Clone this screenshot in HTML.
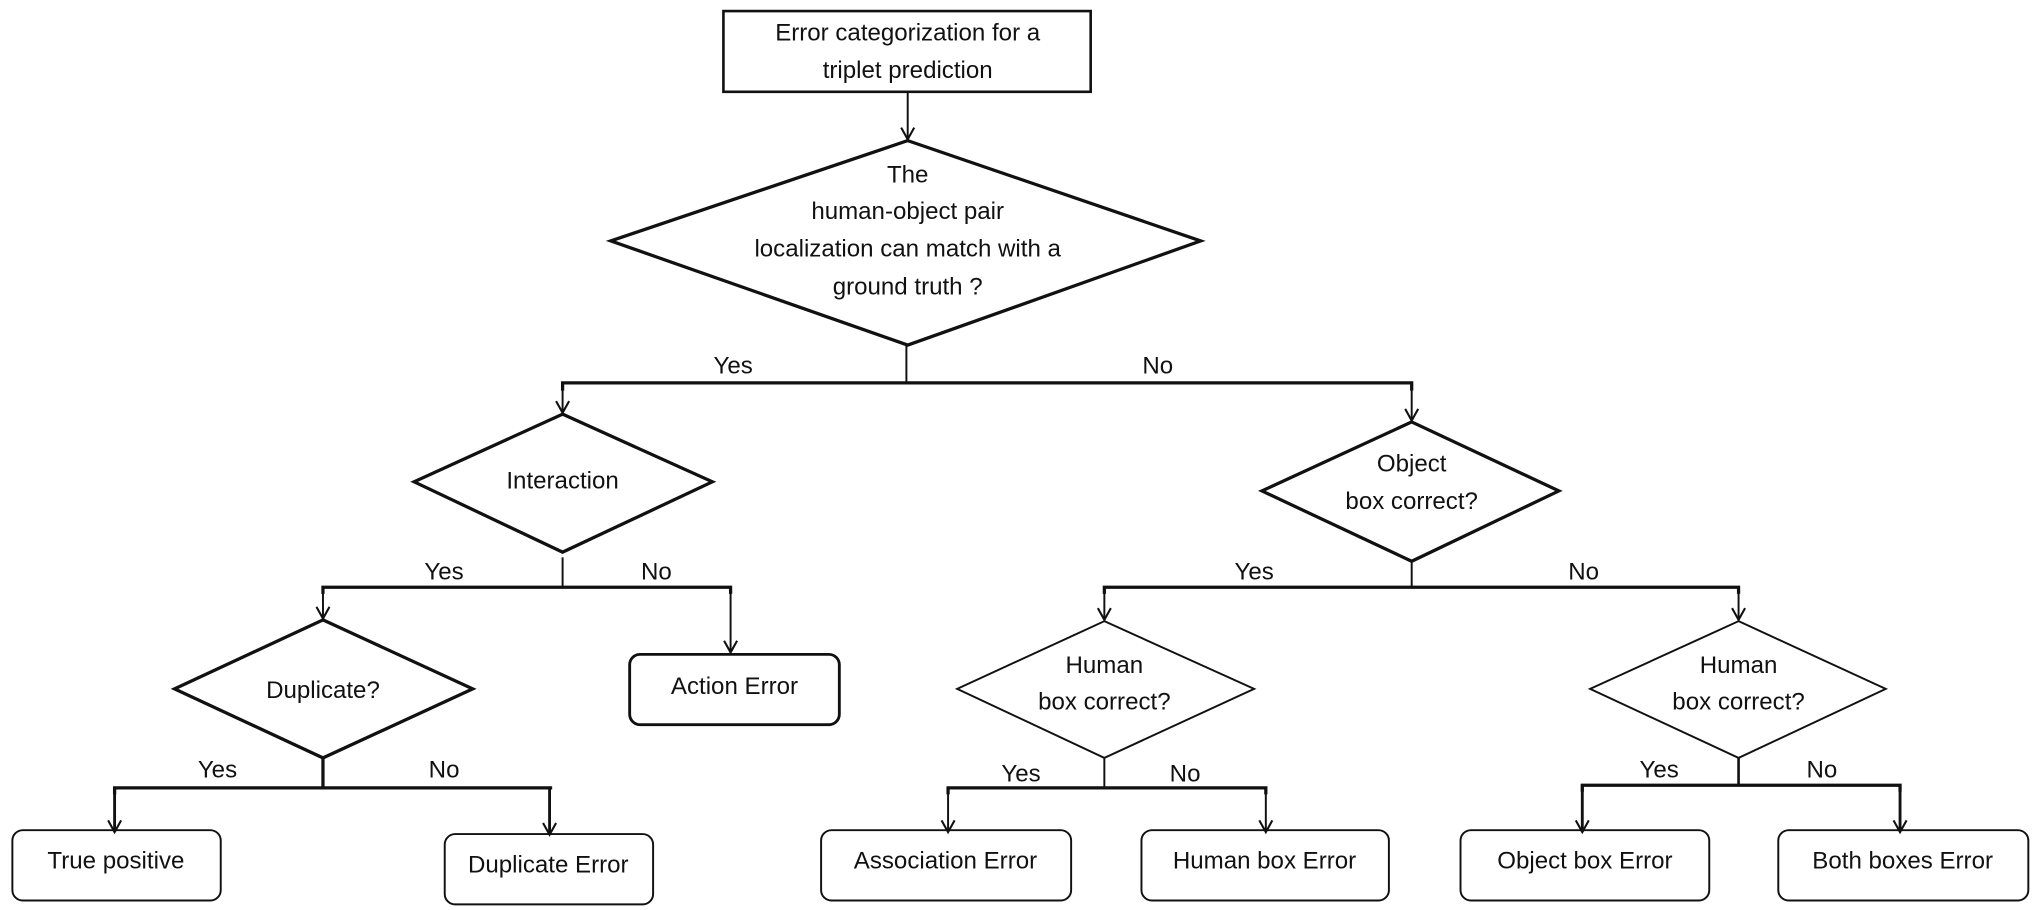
<!DOCTYPE html>
<html><head><meta charset="utf-8"><style>
html,body{margin:0;padding:0;background:#fff;}
svg{display:block;}
text{font-family:"Liberation Sans",sans-serif;font-size:18.5px;fill:#111;text-anchor:middle;}
</style></head><body>
<svg width="2042" height="910" viewBox="0 0 1568 698.8" preserveAspectRatio="none" xmlns="http://www.w3.org/2000/svg">
<defs>
<marker id="a" markerWidth="12" markerHeight="12" refX="10" refY="6" orient="auto" markerUnits="userSpaceOnUse">
<path d="M1,1 L10,6 L1,11" fill="none" stroke="#111" stroke-width="1.6"/>
</marker>
</defs>
<g stroke="#111" fill="none">
<rect x="555.5" y="8.5" width="282" height="62" stroke-width="2"/>
<line x1="697" y1="71" x2="697" y2="107" stroke-width="1.5" marker-end="url(#a)"/>
<polygon points="697,108 922,185 697,265 469,185" stroke-width="2.5"/>
<line x1="696" y1="265" x2="696" y2="294" stroke-width="1.5"/>
<polyline points="432,300 432,294 1084,294 1084,300" stroke-width="2.5"/>
<line x1="432" y1="294" x2="432" y2="317" stroke-width="1.5" marker-end="url(#a)"/>
<line x1="1084" y1="294" x2="1084" y2="323" stroke-width="1.5" marker-end="url(#a)"/>
<polygon points="432,318 547,370 432,424 318,370" stroke-width="2.5"/>
<line x1="432" y1="428" x2="432" y2="451" stroke-width="1.5"/>
<polyline points="248,456 248,451 561,451 561,456" stroke-width="2.5"/>
<line x1="248" y1="451" x2="248" y2="475" stroke-width="1.5" marker-end="url(#a)"/>
<line x1="561" y1="451" x2="561" y2="501" stroke-width="1.5" marker-end="url(#a)"/>
<rect x="483.5" y="502.5" width="161" height="54" rx="8" stroke-width="2.2"/>
<polygon points="248,476 363,529 248,582 134,529" stroke-width="2.5"/>
<line x1="248" y1="582" x2="248" y2="605" stroke-width="2.5"/>
<polyline points="88,610 88,605 424,605" stroke-width="2.5"/>
<line x1="422" y1="605" x2="422" y2="641" stroke-width="2.2" marker-end="url(#a)"/>
<line x1="88" y1="605" x2="88" y2="639" stroke-width="2.2" marker-end="url(#a)"/>
<rect x="9.5" y="637.5" width="160" height="54" rx="8" stroke-width="1.5"/>
<rect x="341.5" y="640.5" width="160" height="54" rx="8" stroke-width="1.5"/>
<polygon points="1084,324 1197,377 1084,431 969,377" stroke-width="2.5"/>
<line x1="1084" y1="431" x2="1084" y2="451" stroke-width="1.5"/>
<polyline points="848,456 848,451 1335,451 1335,456" stroke-width="2.5"/>
<line x1="848" y1="451" x2="848" y2="476" stroke-width="1.5" marker-end="url(#a)"/>
<line x1="1335" y1="451" x2="1335" y2="476" stroke-width="1.5" marker-end="url(#a)"/>
<polygon points="848,477 963,529 848,582 735,529" stroke-width="1.5"/>
<line x1="848" y1="582" x2="848" y2="605" stroke-width="1.5"/>
<polyline points="728,610 728,605 972,605 972,610" stroke-width="2.5"/>
<line x1="728" y1="605" x2="728" y2="639" stroke-width="1.5" marker-end="url(#a)"/>
<line x1="972" y1="605" x2="972" y2="639" stroke-width="1.5" marker-end="url(#a)"/>
<rect x="630.5" y="637.5" width="192" height="54" rx="8" stroke-width="1.5"/>
<rect x="876.5" y="637.5" width="190" height="54" rx="8" stroke-width="1.5"/>
<polygon points="1335,477 1448,529 1335,582 1221,529" stroke-width="1.5"/>
<line x1="1335" y1="582" x2="1335" y2="603" stroke-width="2"/>
<polyline points="1215,608 1215,603 1459,603 1459,608" stroke-width="2.5"/>
<line x1="1215" y1="603" x2="1215" y2="639" stroke-width="2.2" marker-end="url(#a)"/>
<line x1="1459" y1="603" x2="1459" y2="639" stroke-width="2.2" marker-end="url(#a)"/>
<rect x="1121.5" y="637.5" width="191" height="54" rx="8" stroke-width="1.5"/>
<rect x="1365.5" y="637.5" width="192" height="54" rx="8" stroke-width="1.5"/>
</g>
<text x="697" y="31">Error categorization for a</text>
<text x="697" y="60">triplet prediction</text>
<text x="697" y="140">The</text>
<text x="697" y="168">human-object pair</text>
<text x="697" y="197">localization can match with a</text>
<text x="697" y="226">ground truth ?</text>
<text x="563" y="287">Yes</text>
<text x="889" y="287">No</text>
<text x="432" y="375">Interaction</text>
<text x="1084" y="362">Object</text>
<text x="1084" y="391">box correct?</text>
<text x="341" y="445">Yes</text>
<text x="504" y="445">No</text>
<text x="963" y="445">Yes</text>
<text x="1216" y="445">No</text>
<text x="564" y="533">Action Error</text>
<text x="248" y="536">Duplicate?</text>
<text x="848" y="517">Human</text>
<text x="848" y="545">box correct?</text>
<text x="1335" y="517">Human</text>
<text x="1335" y="545">box correct?</text>
<text x="167" y="597">Yes</text>
<text x="341" y="597">No</text>
<text x="784" y="600">Yes</text>
<text x="910" y="600">No</text>
<text x="1274" y="597">Yes</text>
<text x="1399" y="597">No</text>
<text x="89" y="667">True positive</text>
<text x="421" y="670">Duplicate Error</text>
<text x="726" y="667">Association Error</text>
<text x="971" y="667">Human box Error</text>
<text x="1217" y="667">Object box Error</text>
<text x="1461" y="667">Both boxes Error</text>
</svg>
</body></html>
